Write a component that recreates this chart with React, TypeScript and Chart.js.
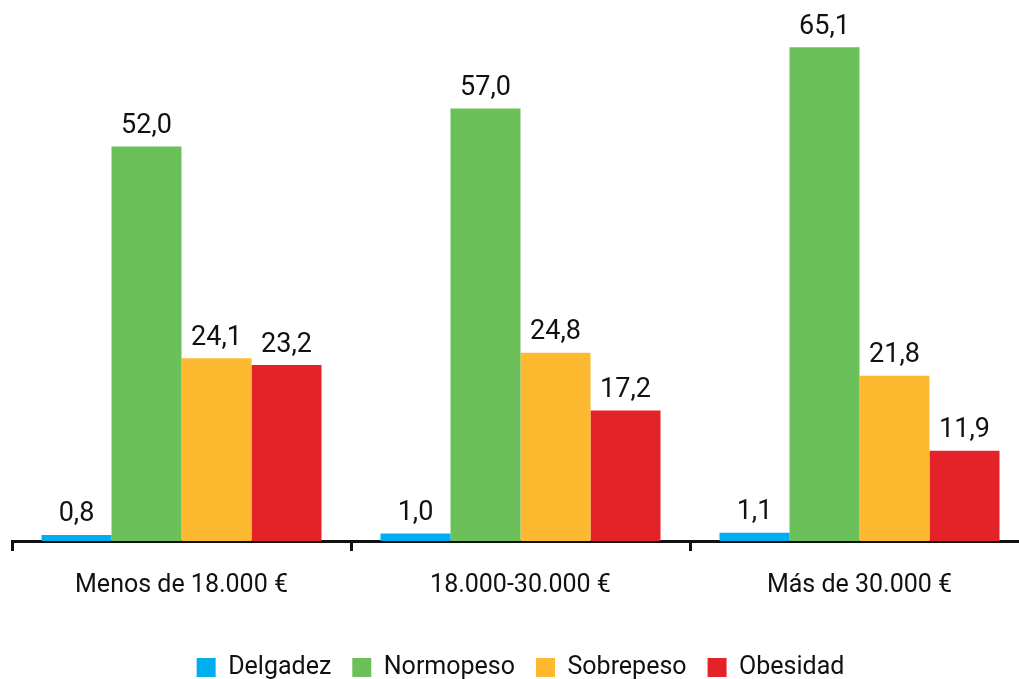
import React, { useEffect, useRef } from 'react';
import { Chart, registerables } from 'chart.js';

Chart.register(...registerables);

const categories = ['Menos de 18.000 €', '18.000-30.000 €', 'Más de 30.000 €'];
const seriesNames = ['Delgadez', 'Normopeso', 'Sobrepeso', 'Obesidad'];
const delgadez = [0.8, 1.0, 1.1];
const normopeso = [52.0, 57.0, 65.1];
const sobrepeso = [24.1, 24.8, 21.8];
const obesidad = [23.2, 17.2, 11.9];
const seriesColors = ['#00AEEF', '#6CC059', '#FDBA30', '#E42328'];

const valueLabels = {
  id: 'valueLabels',
  afterDatasetsDraw(chart: any) {
    const ctx = chart.ctx;
    ctx.save();
    ctx.font = '27px Roboto';
    ctx.fillStyle = '#111111';
    ctx.textAlign = 'center';
    ctx.textBaseline = 'alphabetic';
    chart.data.datasets.forEach((ds: any, i: number) => {
      const meta = chart.getDatasetMeta(i);
      meta.data.forEach((bar: any, j: number) => {
        const v = ds.data[j] as number;
        ctx.fillText(v.toFixed(1).replace('.', ','), bar.x, bar.y - 13.5);
      });
    });
    ctx.restore();
  },
};

export default function App() {
  const ref = useRef<HTMLCanvasElement | null>(null);

  useEffect(() => {
    if (!ref.current) return;
    Chart.defaults.font.family = 'Roboto';
    const allSeries = [delgadez, normopeso, sobrepeso, obesidad];
    const chart = new Chart(ref.current, {
      type: 'bar',
      data: {
        labels: categories,
        datasets: allSeries.map((d, i) => ({
          label: seriesNames[i],
          data: d,
          backgroundColor: seriesColors[i],
          borderWidth: 0,
          categoryPercentage: 0.826,
          barPercentage: 1.0,
        })),
      },
      options: {
        animation: false,
        responsive: false,
        maintainAspectRatio: false,
        layout: { padding: { top: 10, left: 12, right: 31, bottom: 10 } },
        plugins: {
          legend: {
            position: 'bottom',
            labels: {
              boxWidth: 19,
              boxHeight: 19,
              padding: 21,
              color: '#111111',
              font: { size: 25, family: 'Roboto' },
            },
          },
          tooltip: { enabled: false },
        },
        scales: {
          x: {
            z: 1,
            grid: {
              display: true,
              drawOnChartArea: false,
              drawTicks: true,
              tickLength: 10,
              color: '#111111',
              lineWidth: 3,
            },
            border: { display: true, color: '#111111', width: 3 },
            ticks: {
              color: '#111111',
              padding: 20,
              font: { size: 25, family: 'Roboto' },
            },
            afterFit: (scale: any) => {
              scale.height = 93;
            },
          },
          y: {
            display: false,
            min: 0,
            max: 70,
          },
        },
      },
      plugins: [valueLabels],
    });
    return () => chart.destroy();
  }, []);

  return (
    <div
      style={{
        position: 'fixed',
        left: 0,
        top: 0,
        width: 1019,
        height: 679,
        overflow: 'hidden',
        background: '#ffffff',
      }}
    >
      <canvas ref={ref} width={1060} height={700} style={{ display: 'block' }} />
    </div>
  );
}
